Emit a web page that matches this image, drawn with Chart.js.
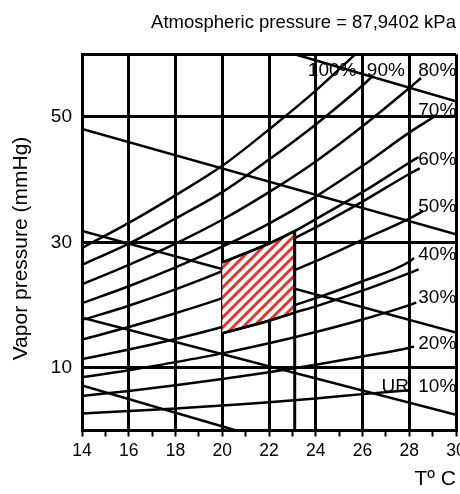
<!DOCTYPE html>
<html>
<head>
<meta charset="utf-8">
<script src="https://cdn.jsdelivr.net/npm/chart.js@4.4.1/dist/chart.umd.min.js"></script>
<style>
    html, body { margin: 0; padding: 0; background: #fff; }
    #wrap { width: 460px; height: 494px; }
</style>
</head>
<body>
<div id="wrap"><canvas id="psyChart" width="460" height="494"></canvas></div>
<script>
// temperatures (ºC) where the humidity curves were read
const temps = [14, 16, 18, 20, 22, 24, 26, 28];

// relative humidity curves, vapor pressure (mmHg) at each temperature
const rh100 = [29.1, 33.1, 37.5, 42.2, 48.0, 54.2];
const rh90 = [26.4, 29.8, 33.8, 38.0, 43.2, 48.8, 55.0];
const rh80 = [23.3, 26.4, 29.8, 33.6, 38.0, 42.9, 48.5, 54.6];
const rh70 = [20.3, 23.0, 26.0, 29.3, 33.0, 37.3, 42.2, 47.5];
const rh60 = [17.6, 19.9, 22.5, 25.4, 28.7, 32.4, 36.5, 40.9];
const rh50 = [14.5, 16.5, 18.7, 21.1, 23.9, 27.0, 30.4, 33.8];
const rh40 = [11.4, 12.9, 14.6, 16.5, 18.7, 21.1, 23.8, 26.9];
const rh30 = [8.5, 9.6, 10.9, 12.3, 13.9, 15.7, 17.7, 20.0];
const rh20 = [5.5, 6.3, 7.2, 8.2, 9.3, 10.5, 11.8, 13.2];
const rh10 = [2.7, 3.1, 3.5, 4.0, 4.5, 5.1, 5.8];
const rhCurves = [rh100, rh90, rh80, rh70, rh60, rh50, rh40, rh30, rh20, rh10];
// where each curve stops
const rhEndT = [25.7, 26.4, 28.5, 29.1, 28.45, 28.6, 28.2, 28.3, 28.2, 28.0];
const rhEndV = [60.0, 56.4, 56.2, 50.1, 41.8, 35.0, 27.5, 20.4, 13.4, 6.4];

// comfort zone limits (upper and lower curve)
const zoneT = [20, 22, 23.1, 24, 26, 28, 28.4];
const zoneTop = [26.8, 29.8, 31.8, 33.7, 38.0, 42.7, 43.6];
const zoneBottom = [15.5, 17.5, 18.8, 19.8, 22.3, 25.1, 25.7];
const zoneRightT = 23.1;

// straight descending lines
const descT = [[14, 30], [14, 30], [14, 20.6], [14, 30], [23.1, 30]];
const descV = [[48.1, 31.3], [31.8, 15.6], [7.2, 0], [18.0, 2.5], [60, 52.5]];

// curve labels
const labelText = ['100%', '90%', '80%', '70%', '60%', '50%', '40%', '30%', '20%', '10%', 'UR'];
const labelT = [24.7, 27.0, 29.2, 29.2, 29.2, 29.2, 29.2, 29.2, 29.2, 29.2, 27.4];
const labelV = [57.6, 57.6, 57.6, 51.3, 43.5, 36.0, 28.3, 21.4, 14.1, 7.3, 7.3];

const fontFam = '"Liberation Sans", Arial, sans-serif';
Chart.defaults.font.family = fontFam;
Chart.defaults.color = '#000';

function toPoints(xs, ys) {
    return xs.map(function (x, i) { return { x: x, y: ys[i] }; });
}

const canvas = document.getElementById('psyChart');
const ctx = canvas.getContext('2d');

// red diagonal hatch on white
const tile = document.createElement('canvas');
tile.width = 10;
tile.height = 10;
const tctx = tile.getContext('2d');
tctx.fillStyle = '#fff';
tctx.fillRect(0, 0, 10, 10);
tctx.strokeStyle = '#e8322b';
tctx.lineWidth = 3;
tctx.beginPath();
tctx.moveTo(-2, 12); tctx.lineTo(12, -2);
tctx.moveTo(-2, 2); tctx.lineTo(2, -2);
tctx.moveTo(8, 12); tctx.lineTo(12, 8);
tctx.stroke();
const hatch = ctx.createPattern(tile, 'repeat');

const datasets = [];

// zone outline lines on top
datasets.push({ data: toPoints(zoneT, zoneTop), order: 0 });
datasets.push({ data: toPoints(zoneT, zoneBottom), order: 0 });
const rightIdx = zoneT.indexOf(zoneRightT);
datasets.push({
    data: [{ x: zoneRightT, y: zoneTop[rightIdx] }, { x: zoneRightT, y: 0 }],
    order: 0, borderWidth: 3, cubicInterpolationMode: 'default'
});

// hatched zone
const polyT = zoneT.slice(0, rightIdx + 1);
const poly = toPoints(polyT, zoneTop.slice(0, rightIdx + 1))
    .concat(toPoints(polyT, zoneBottom.slice(0, rightIdx + 1)).reverse());
datasets.push({
    data: poly, order: 1, fill: 'shape', backgroundColor: hatch,
    borderWidth: 2.5, cubicInterpolationMode: 'default', tension: 0
});

// humidity curves
rhCurves.forEach(function (vals, i) {
    const xs = temps.slice(0, vals.length).concat([rhEndT[i]]);
    const ys = vals.concat([rhEndV[i]]);
    datasets.push({ data: toPoints(xs, ys), order: 2 });
});

// descending lines
descT.forEach(function (xs, i) {
    datasets.push({ data: toPoints(xs, descV[i]), order: 2, cubicInterpolationMode: 'default' });
});

const textPlugin = {
    id: 'curveText',
    afterDatasetsDraw: function (chart) {
        const c = chart.ctx;
        const xs = chart.scales.x;
        const ys = chart.scales.y;
        c.save();
        c.fillStyle = '#000';
        c.font = '19px ' + fontFam;
        c.textAlign = 'center';
        c.textBaseline = 'alphabetic';
        labelText.forEach(function (t, i) {
            c.fillText(t, xs.getPixelForValue(labelT[i]), ys.getPixelForValue(labelV[i]) + 7);
        });
        // y axis title
        c.translate(21.5, 248.5);
        c.rotate(-Math.PI / 2);
        c.font = '21px ' + fontFam;
        c.textBaseline = 'middle';
        c.fillText('Vapor pressure (mmHg)', 0, 0);
        c.restore();
    }
};

new Chart(ctx, {
    type: 'line',
    data: { datasets: datasets },
    options: {
        responsive: false,
        animation: false,
        layout: { padding: { left: 0, right: 4, top: 0, bottom: 0 } },
        elements: {
            line: { borderColor: '#000', borderWidth: 2.5, fill: false, cubicInterpolationMode: 'monotone' },
            point: { radius: 0 }
        },
        plugins: {
            legend: { display: false },
            tooltip: { enabled: false },
            title: {
                display: true,
                text: 'Atmospheric pressure = 87,9402 kPa',
                align: 'end',
                color: '#000',
                font: { size: 18.5, weight: 'normal' },
                padding: { top: 12, bottom: 20 }
            }
        },
        scales: {
            x: {
                type: 'linear',
                min: 14,
                max: 30,
                ticks: {
                    stepSize: 1,
                    autoSkip: false,
                    maxRotation: 0,
                    padding: 4,
                    font: { size: 17.5 },
                    callback: function (v) { return v % 2 === 0 ? v : ''; }
                },
                grid: {
                    color: function (c) {
                        return (c.tick && c.tick.value % 2 === 0) ? '#000' : 'rgba(0,0,0,0)';
                    },
                    lineWidth: 3,
                    tickColor: '#000',
                    tickWidth: 2,
                    tickLength: 6
                },
                border: { display: true, color: '#000', width: 3 },
                title: {
                    display: true,
                    text: 'Tº C',
                    align: 'end',
                    font: { size: 21 },
                    padding: { top: 0, bottom: 2 }
                },
                afterFit: function (s) {
                    s.height = 63.5;
                    s.paddingLeft = 0;
                    s.paddingRight = 0;
                }
            },
            y: {
                type: 'linear',
                min: 0,
                max: 60,
                ticks: {
                    stepSize: 10,
                    padding: 10,
                    font: { size: 19 },
                    callback: function (v) { return [10, 30, 50].indexOf(v) >= 0 ? v : ''; }
                },
                grid: {
                    color: function (c) {
                        return (c.tick && [0, 10, 30, 50, 60].indexOf(c.tick.value) >= 0) ? '#000' : 'rgba(0,0,0,0)';
                    },
                    lineWidth: 3,
                    drawTicks: false
                },
                border: { display: true, color: '#000', width: 3 },
                afterFit: function (s) {
                    s.width = 82;
                    s.paddingTop = 0;
                    s.paddingBottom = 0;
                }
            }
        }
    },
    plugins: [textPlugin]
});
</script>
</body>
</html>
